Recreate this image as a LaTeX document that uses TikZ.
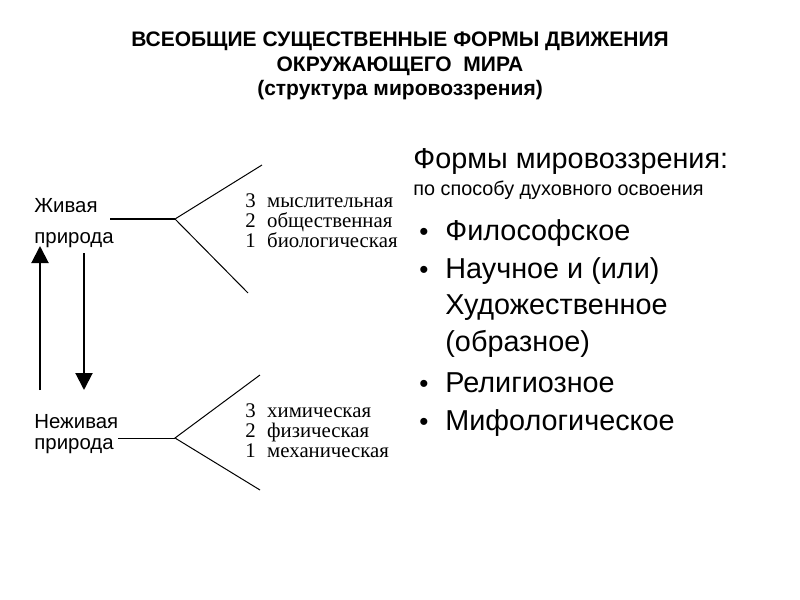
\documentclass[tikz,border=0pt]{standalone}
\usepackage{fontspec}
\setmainfont{Liberation Sans}
\newfontfamily\timesfont{Liberation Serif}
\usetikzlibrary{arrows.meta, positioning}

\begin{document}
\begin{tikzpicture}[
  x=0.5pt, y=-0.5pt,
  title/.style ={font=\fontsize{10.5}{12.4}\selectfont\bfseries, align=center},
  side/.style  ={anchor=base west, inner sep=0pt, font=\fontsize{10.2}{11}\selectfont},
  level/.style ={anchor=base west, inner sep=0pt, font=\timesfont\fontsize{10.4}{11}\selectfont},
  item/.style  ={anchor=base west, inner sep=0pt, font=\fontsize{14.4}{16}\selectfont},
  dot/.style   ={anchor=base west, inner sep=0pt, font=\fontsize{13}{14}\selectfont},
  branch/.style={line width=0.5pt},
  arr/.style   ={-{Triangle[length=8.5pt, width=8.5pt]}, line width=1pt},
]
\useasboundingbox (0,0) rectangle (800,600);

% ================= title =================
\node[title] (head) at (400,66)
  {ВСЕОБЩИЕ СУЩЕСТВЕННЫЕ ФОРМЫ ДВИЖЕНИЯ\\ОКРУЖАЮЩЕГО\ \ МИРА\\(структура мировоззрения)};

% ================= living nature =================
\node[side] (live1) at (34,212) {Живая};
\node[side] (live2) at (34,243) {природа};
\coordinate (lstart) at (110,219);
\coordinate (lfork) at (175,219);
\coordinate (lup) at (262,165);
\coordinate (ldown) at (248,293);
\draw[line width=1pt] (lstart) -- (lfork);
\draw[branch] (lup) -- (lfork) -- (ldown);

\node[level] (l3) at (245,207) {3\hspace{0.55em}мыслительная};
\node[level] (l2) at (245,227) {2\hspace{0.55em}общественная};
\node[level] (l1) at (245,247) {1\hspace{0.55em}биологическая};

% ================= non-living nature =================
\node[side] (dead1) at (34,428) {Неживая};
\node[side] (dead2) at (34,449) {природа};
\coordinate (dstart) at (118,438);
\coordinate (dfork) at (175,438);
\coordinate (dup) at (260,375);
\coordinate (ddown) at (260,490);
\draw[branch] (dstart) -- (dfork);
\draw[branch] (dup) -- (dfork) -- (ddown);

\node[level] (d3) at (245,417) {3\hspace{0.55em}химическая};
\node[level] (d2) at (245,437) {2\hspace{0.55em}физическая};
\node[level] (d1) at (245,457) {1\hspace{0.55em}механическая};

% transitions between the two
\coordinate (upfoot) at (40,390);
\coordinate (uptip) at (40,246);
\coordinate (downtop) at (84,253);
\coordinate (downtip) at (84,390);
\draw[arr] (upfoot) -- (uptip);
\draw[arr] (downtop) -- (downtip);

% ================= forms of world view =================
\node[anchor=base west, inner sep=0pt, font=\fontsize{14.4}{16}\selectfont] (forms)
  at (413,168) {Формы мировоззрения:};
\node[anchor=base west, inner sep=0pt, font=\fontsize{9.9}{11}\selectfont] (mode)
  at (413,195) {по способу духовного освоения};

\foreach \y/\name/\txt in {240/i1/Философское, 278/i2/Научное и (или),
                           392/i4/Религиозное, 430/i5/Мифологическое}{
  \node[dot] (\name b) at (419,\y) {•};
  \node[item] (\name) at (445,\y) {\txt};
}
\node[item] (i2b2) at (445,314) {Художественное};
\node[item] (i2b3) at (445,351) {(образное)};

\end{tikzpicture}
\end{document}
